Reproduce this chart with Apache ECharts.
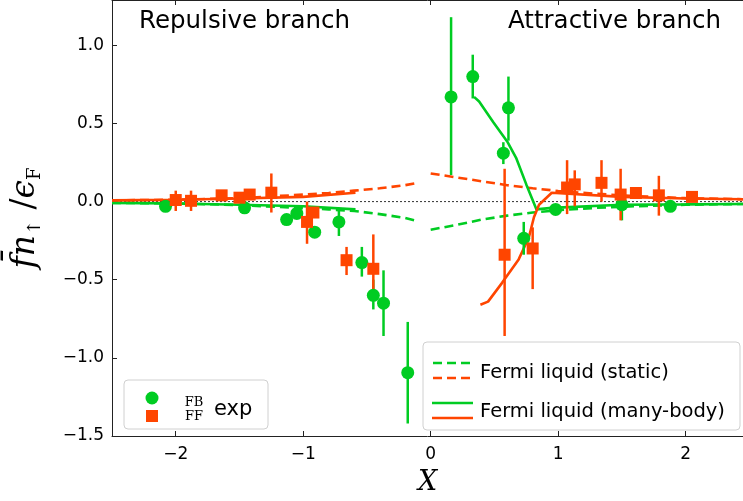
<!DOCTYPE html>
<html>
<head>
<meta charset="utf-8">
<script src="https://cdn.jsdelivr.net/npm/echarts@6/dist/echarts.min.js"></script>
<style>
  html, body { margin: 0; padding: 0; background: #fff; }
  #chart { width: 743px; height: 501px; }
</style>
</head>
<body>
<div id="chart"></div>
<script>
// experimental points, FB (green circles) and FF (orange squares)
const fbX  = [-2.08, -1.46, -1.13, -1.05, -0.91, -0.72, -0.54, -0.45, -0.37, -0.18, 0.16, 0.33, 0.57, 0.61, 0.73, 0.98, 1.50, 1.88]
const fbY  = [-0.03, -0.04, -0.115, -0.076, -0.196, -0.13, -0.39, -0.60, -0.65, -1.095, 0.67, 0.80, 0.31, 0.60, -0.235, -0.05, -0.02, -0.03]
const fbLo = [-0.05, -0.07, -0.14, -0.10, -0.23, -0.22, -0.48, -0.69, -0.86, -1.42, 0.17, 0.66, 0.24, 0.39, -0.34, -0.07, -0.12, -0.05]
const fbHi = [-0.01, -0.01, -0.09, -0.05, -0.16, -0.04, -0.29, -0.50, -0.44, -0.77, 1.18, 0.94, 0.38, 0.80, -0.13, -0.03, 0.02, -0.01]

const ffX  = [-2.00, -1.88, -1.64, -1.50, -1.42, -1.25, -0.97, -0.92, -0.66, -0.45, 0.58, 0.80, 1.07, 1.13, 1.34, 1.49, 1.61, 1.79, 2.05]
const ffY  = [0.01, 0.005, 0.04, 0.025, 0.045, 0.057, -0.13, -0.07, -0.375, -0.43, -0.34, -0.30, 0.09, 0.11, 0.12, 0.045, 0.055, 0.04, 0.03]
const ffLo = [-0.06, -0.06, 0.01, 0.0, 0.02, -0.07, -0.27, -0.10, -0.47, -0.56, -0.86, -0.56, -0.08, -0.03, 0.0, -0.12, 0.02, -0.09, 0.01]
const ffHi = [0.07, 0.07, 0.07, 0.05, 0.07, 0.18, 0.0, -0.04, -0.29, -0.21, 0.21, -0.165, 0.265, 0.20, 0.265, 0.21, 0.09, 0.165, 0.05]

// Fermi liquid (static), dashed
const staticLeftX   = [-2.5, -2.0, -1.5, -1.1, -0.8, -0.6, -0.4, -0.2, -0.1]
const staticLeftFF  = [0.008, 0.012, 0.022, 0.040, 0.055, 0.070, 0.085, 0.105, 0.12]
const staticLeftFB  = [-0.008, -0.012, -0.022, -0.038, -0.050, -0.060, -0.080, -0.105, -0.125]
const staticRightX  = [0.0, 0.2, 0.4, 0.6, 0.8, 1.0, 1.3, 1.6, 2.0, 2.45]
const staticRightFF = [0.18, 0.155, 0.13, 0.105, 0.085, 0.068, 0.05, 0.035, 0.022, 0.015]
const staticRightFB = [-0.18, -0.15, -0.115, -0.09, -0.07, -0.055, -0.04, -0.03, -0.02, -0.015]

// Fermi liquid (many-body), solid
const mbLeftX   = [-2.5, -2.0, -1.5, -1.0, -0.59]
const mbLeftFB  = [-0.008, -0.012, -0.02, -0.03, -0.05]
const mbLeftFF  = [0.008, 0.012, 0.02, 0.03, 0.057]
const mbRightFBX = [0.34, 0.38, 0.49, 0.60, 0.67, 0.75, 0.83, 0.95, 1.5, 2.0, 2.45]
const mbRightFBY = [0.67, 0.64, 0.51, 0.385, 0.28, 0.11, -0.05, -0.04, -0.02, -0.018, -0.015]
const mbRightFFX = [0.39, 0.45, 0.56, 0.69, 0.77, 0.81, 0.85, 0.95, 1.5, 2.0, 2.45]
const mbRightFFY = [-0.66, -0.64, -0.52, -0.37, -0.23, -0.10, -0.02, 0.057, 0.03, 0.02, 0.015]

const xTicks = [-2, -1, 0, 1, 2]

const GREEN = '#00cc22'
const ORANGE = '#ff4500'

const zip = (xs, ys) => xs.map((x, i) => [x, ys[i]])
const bars = (xs, lo, hi) => xs.map((x, i) => [x, lo[i], hi[i]])
const minus = v => (v < 0 ? '\u2212' : '') + Math.abs(v)

function errorBars(name, data, color) {
  return {
    name,
    type: 'custom',
    data,
    z: 3,
    clip: true,
    encode: { x: 0, y: [1, 2] },
    renderItem: (params, api) => {
      const a = api.coord([api.value(0), api.value(1)])
      const b = api.coord([api.value(0), api.value(2)])
      return {
        type: 'line',
        shape: { x1: a[0], y1: a[1], x2: b[0], y2: b[1] },
        style: { stroke: color, lineWidth: 2.5 }
      }
    }
  }
}

function curve(data, color, dashed) {
  return {
    type: 'line',
    data,
    showSymbol: false,
    symbol: 'none',
    z: 2,
    silent: true,
    lineStyle: { color, width: 2.6, type: dashed ? [9, 5] : 'solid' }
  }
}

const chart = echarts.init(document.getElementById('chart'))

chart.setOption({
  backgroundColor: '#fff',
  animation: false,
  grid: { left: 112, right: 0, top: 0, bottom: 61 },
  title: [
    { text: 'Repulsive branch', left: 139, top: 9, padding: 0, textStyle: { fontFamily: 'DejaVu Sans', fontSize: 24.5, fontWeight: 'normal', color: '#000' } },
    { text: 'Attractive branch', left: 508, top: 9, padding: 0, textStyle: { fontFamily: 'DejaVu Sans', fontSize: 24.5, fontWeight: 'normal', color: '#000' } }
  ],
  xAxis: [
    {
      type: 'value',
      min: -2.5,
      max: 2.45,
      name: 'X',
      nameLocation: 'middle',
      nameGap: 33,
      nameTextStyle: { fontFamily: 'DejaVu Serif', fontStyle: 'italic', fontSize: 27, color: '#000' },
      axisLine: { onZero: false, lineStyle: { color: '#222', width: 1 } },
      axisTick: { inside: true, length: 5, customValues: xTicks, lineStyle: { color: '#222' } },
      axisLabel: { customValues: xTicks, margin: 10, fontFamily: 'DejaVu Sans', fontSize: 17, color: '#000', formatter: minus },
      splitLine: { show: false }
    },
    {
      type: 'value',
      position: 'top',
      min: -2.5,
      max: 2.45,
      axisLine: { onZero: false, lineStyle: { color: '#222', width: 1 } },
      axisTick: { inside: true, length: 5, customValues: xTicks, lineStyle: { color: '#222' } },
      axisLabel: { show: false },
      splitLine: { show: false }
    }
  ],
  yAxis: {
    type: 'value',
    min: -1.5,
    max: 1.29,
    interval: 0.5,
    name: '{i|f\u0304n}{s|\u2191}{r| /}{i|\u03f5}{s|F}',
    nameLocation: 'middle',
    nameRotate: 90,
    nameGap: 68,
    nameTextStyle: {
      rich: {
        i: { fontFamily: 'DejaVu Serif', fontStyle: 'italic', fontSize: 33, lineHeight: 38, color: '#000' },
        r: { fontFamily: 'DejaVu Serif', fontSize: 33, lineHeight: 38, color: '#000' },
        s: { fontFamily: 'DejaVu Serif', fontSize: 18, lineHeight: 38, verticalAlign: 'bottom', color: '#000', padding: [15, 0, 0, 0] }
      }
    },
    axisLine: { show: true, onZero: false, lineStyle: { color: '#222', width: 1 } },
    axisTick: { inside: true, length: 5, lineStyle: { color: '#222' } },
    axisLabel: {
      margin: 8, fontFamily: 'DejaVu Sans', fontSize: 17, color: '#000', showMaxLabel: false,
      formatter: v => minus(v).replace(/^(\u2212?\d+)$/, '$1.0').replace(/^(\u2212?\d+\.\d)\d*$/, '$1')
    },
    splitLine: { show: false }
  },
  series: [
    {
      type: 'line',
      data: [[-2.5, 0], [2.45, 0]],
      symbol: 'none',
      silent: true,
      z: 1,
      lineStyle: { color: '#333', width: 1, type: [2, 2] }
    },
    curve(zip(staticLeftX, staticLeftFB), GREEN, true),
    curve(zip(staticLeftX, staticLeftFF), ORANGE, true),
    curve(zip(staticRightX, staticRightFB), GREEN, true),
    curve(zip(staticRightX, staticRightFF), ORANGE, true),
    curve(zip(mbLeftX, mbLeftFB), GREEN, false),
    curve(zip(mbLeftX, mbLeftFF), ORANGE, false),
    curve(zip(mbRightFBX, mbRightFBY), GREEN, false),
    curve(zip(mbRightFFX, mbRightFFY), ORANGE, false),
    errorBars('FB err', bars(fbX, fbLo, fbHi), GREEN),
    errorBars('FF err', bars(ffX, ffLo, ffHi), ORANGE),
    {
      name: 'FB',
      type: 'scatter',
      data: zip(fbX, fbY),
      symbol: 'circle',
      symbolSize: 13,
      z: 4,
      itemStyle: { color: GREEN, opacity: 1 }
    },
    {
      name: 'FF',
      type: 'scatter',
      data: zip(ffX, ffY),
      symbol: 'rect',
      symbolSize: 12,
      z: 4,
      itemStyle: { color: ORANGE, opacity: 1 }
    }
  ],
  graphic: [
    // legend, experiment
    { type: 'rect', shape: { x: 124, y: 380, width: 144, height: 49, r: 4 }, style: { fill: 'rgba(255,255,255,0.85)', stroke: '#d0d0d0', lineWidth: 1 }, z: 10 },
    { type: 'circle', shape: { cx: 152, cy: 398, r: 6.5 }, style: { fill: GREEN }, z: 11 },
    { type: 'rect', shape: { x: 146, y: 410, width: 12, height: 12 }, style: { fill: ORANGE }, z: 11 },
    { type: 'text', style: { text: 'FB', x: 194, y: 403, align: 'center', verticalAlign: 'middle', font: '13px "DejaVu Serif"', fill: '#000' }, z: 11 },
    { type: 'text', style: { text: 'FF', x: 194, y: 417, align: 'center', verticalAlign: 'middle', font: '13px "DejaVu Serif"', fill: '#000' }, z: 11 },
    { type: 'text', style: { text: 'exp', x: 214, y: 410, align: 'left', verticalAlign: 'middle', font: '21px "DejaVu Sans"', fill: '#000' }, z: 11 },
    // legend, theory
    { type: 'rect', shape: { x: 423, y: 342, width: 317, height: 88, r: 4 }, style: { fill: 'rgba(255,255,255,0.85)', stroke: '#d0d0d0', lineWidth: 1 }, z: 10 },
    { type: 'line', shape: { x1: 433, y1: 363, x2: 472, y2: 363 }, style: { stroke: GREEN, lineWidth: 2.6, lineDash: [9, 5] }, z: 11 },
    { type: 'line', shape: { x1: 433, y1: 378, x2: 472, y2: 378 }, style: { stroke: ORANGE, lineWidth: 2.6, lineDash: [9, 5] }, z: 11 },
    { type: 'line', shape: { x1: 432, y1: 403, x2: 473, y2: 403 }, style: { stroke: GREEN, lineWidth: 2.6 }, z: 11 },
    { type: 'line', shape: { x1: 432, y1: 418, x2: 473, y2: 418 }, style: { stroke: ORANGE, lineWidth: 2.6 }, z: 11 },
    { type: 'text', style: { text: 'Fermi liquid (static)', x: 480, y: 373, verticalAlign: 'middle', font: '19.5px "DejaVu Sans"', fill: '#000' }, z: 11 },
    { type: 'text', style: { text: 'Fermi liquid (many-body)', x: 480, y: 412, verticalAlign: 'middle', font: '19.5px "DejaVu Sans"', fill: '#000' }, z: 11 }
  ]
})
</script>
</body>
</html>
